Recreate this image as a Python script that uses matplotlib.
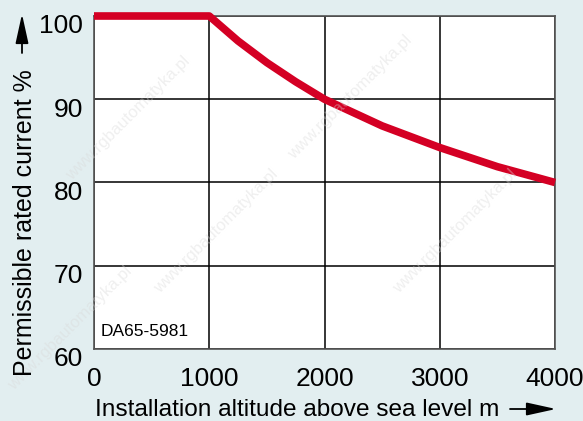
import matplotlib
matplotlib.use("Agg")
import matplotlib.pyplot as plt
import matplotlib.transforms as mtransforms

altitude = [0, 1000, 1250, 1500, 1750, 2000, 2500, 3000, 3500, 4000]
current = [100, 100, 97.0, 94.4, 92.1, 90.0, 86.8, 84.2, 81.9, 80.0]
xticks = [0, 1000, 2000, 3000, 4000]
yticks = [60, 70, 80, 90, 100]

plt.rcParams['font.family'] = ['Liberation Sans', 'DejaVu Sans']
bg = '#e2eef0'
fig = plt.figure(figsize=(5.83, 4.21), dpi=100, facecolor=bg)
ax = fig.add_axes([94/583, 1-349/421, (555-94)/583, (349-16)/421])
ax.set_facecolor('white')
ax.set_xlim(0, 4000)
ax.set_ylim(60, 100)
ax.set_xticks(xticks)
ax.set_yticks(yticks)
ax.set_xticklabels([str(v) for v in xticks], fontsize=19)
ax.set_yticklabels([str(v) for v in yticks], fontsize=19)
ax.tick_params(axis='x', length=0, pad=13)
ax.tick_params(axis='y', length=0, pad=8)
offset = mtransforms.ScaledTranslation(0, -8/100, fig.dpi_scale_trans)
for lbl in ax.get_yticklabels():
    lbl.set_transform(lbl.get_transform() + offset)
ax.grid(True, color='black', linewidth=1.1)
for s in ax.spines.values():
    s.set_color('#555555')
    s.set_linewidth(1.2)
ax.plot(altitude, current, color='#d40024', linewidth=5.5, solid_capstyle='butt', clip_on=False, zorder=5)
ax.text(60, 61.2, 'DA65-5981', fontsize=12.5, ha='left', va='bottom')

# watermarks
for (wx, wy) in [(0.22, 0.72), (0.6, 0.77), (0.37, 0.45), (0.78, 0.45), (0.12, 0.22)]:
    fig.text(wx, wy, 'www.rgbautomatyka.pl', rotation=45, fontsize=12, color='#d8d8d8', alpha=0.4,
             ha='center', va='center', zorder=0)

# axis labels with arrows
fig.text(95/583, 1-410/421, 'Installation altitude above sea level m', fontsize=17.6, ha='left', va='center')
ax.annotate('', xy=(556/583, 1-409/421), xytext=(510/583, 1-409/421), xycoords='figure fraction',
            arrowprops=dict(arrowstyle='-|>,head_length=1.0,head_width=0.22', color='black', lw=1.3,
                            mutation_scale=18, shrinkA=0, shrinkB=0))
fig.text(25/583, 1-376/421, 'Permissible rated current %', fontsize=18, rotation=90, ha='center', va='bottom')
ax.annotate('', xy=(22/583, 1-14/421), xytext=(22/583, 1-53/421), xycoords='figure fraction',
            arrowprops=dict(arrowstyle='-|>,head_length=1.0,head_width=0.22', color='black', lw=1.3,
                            mutation_scale=18, shrinkA=0, shrinkB=0))
fig.savefig('out.png', dpi=100, facecolor=bg)
